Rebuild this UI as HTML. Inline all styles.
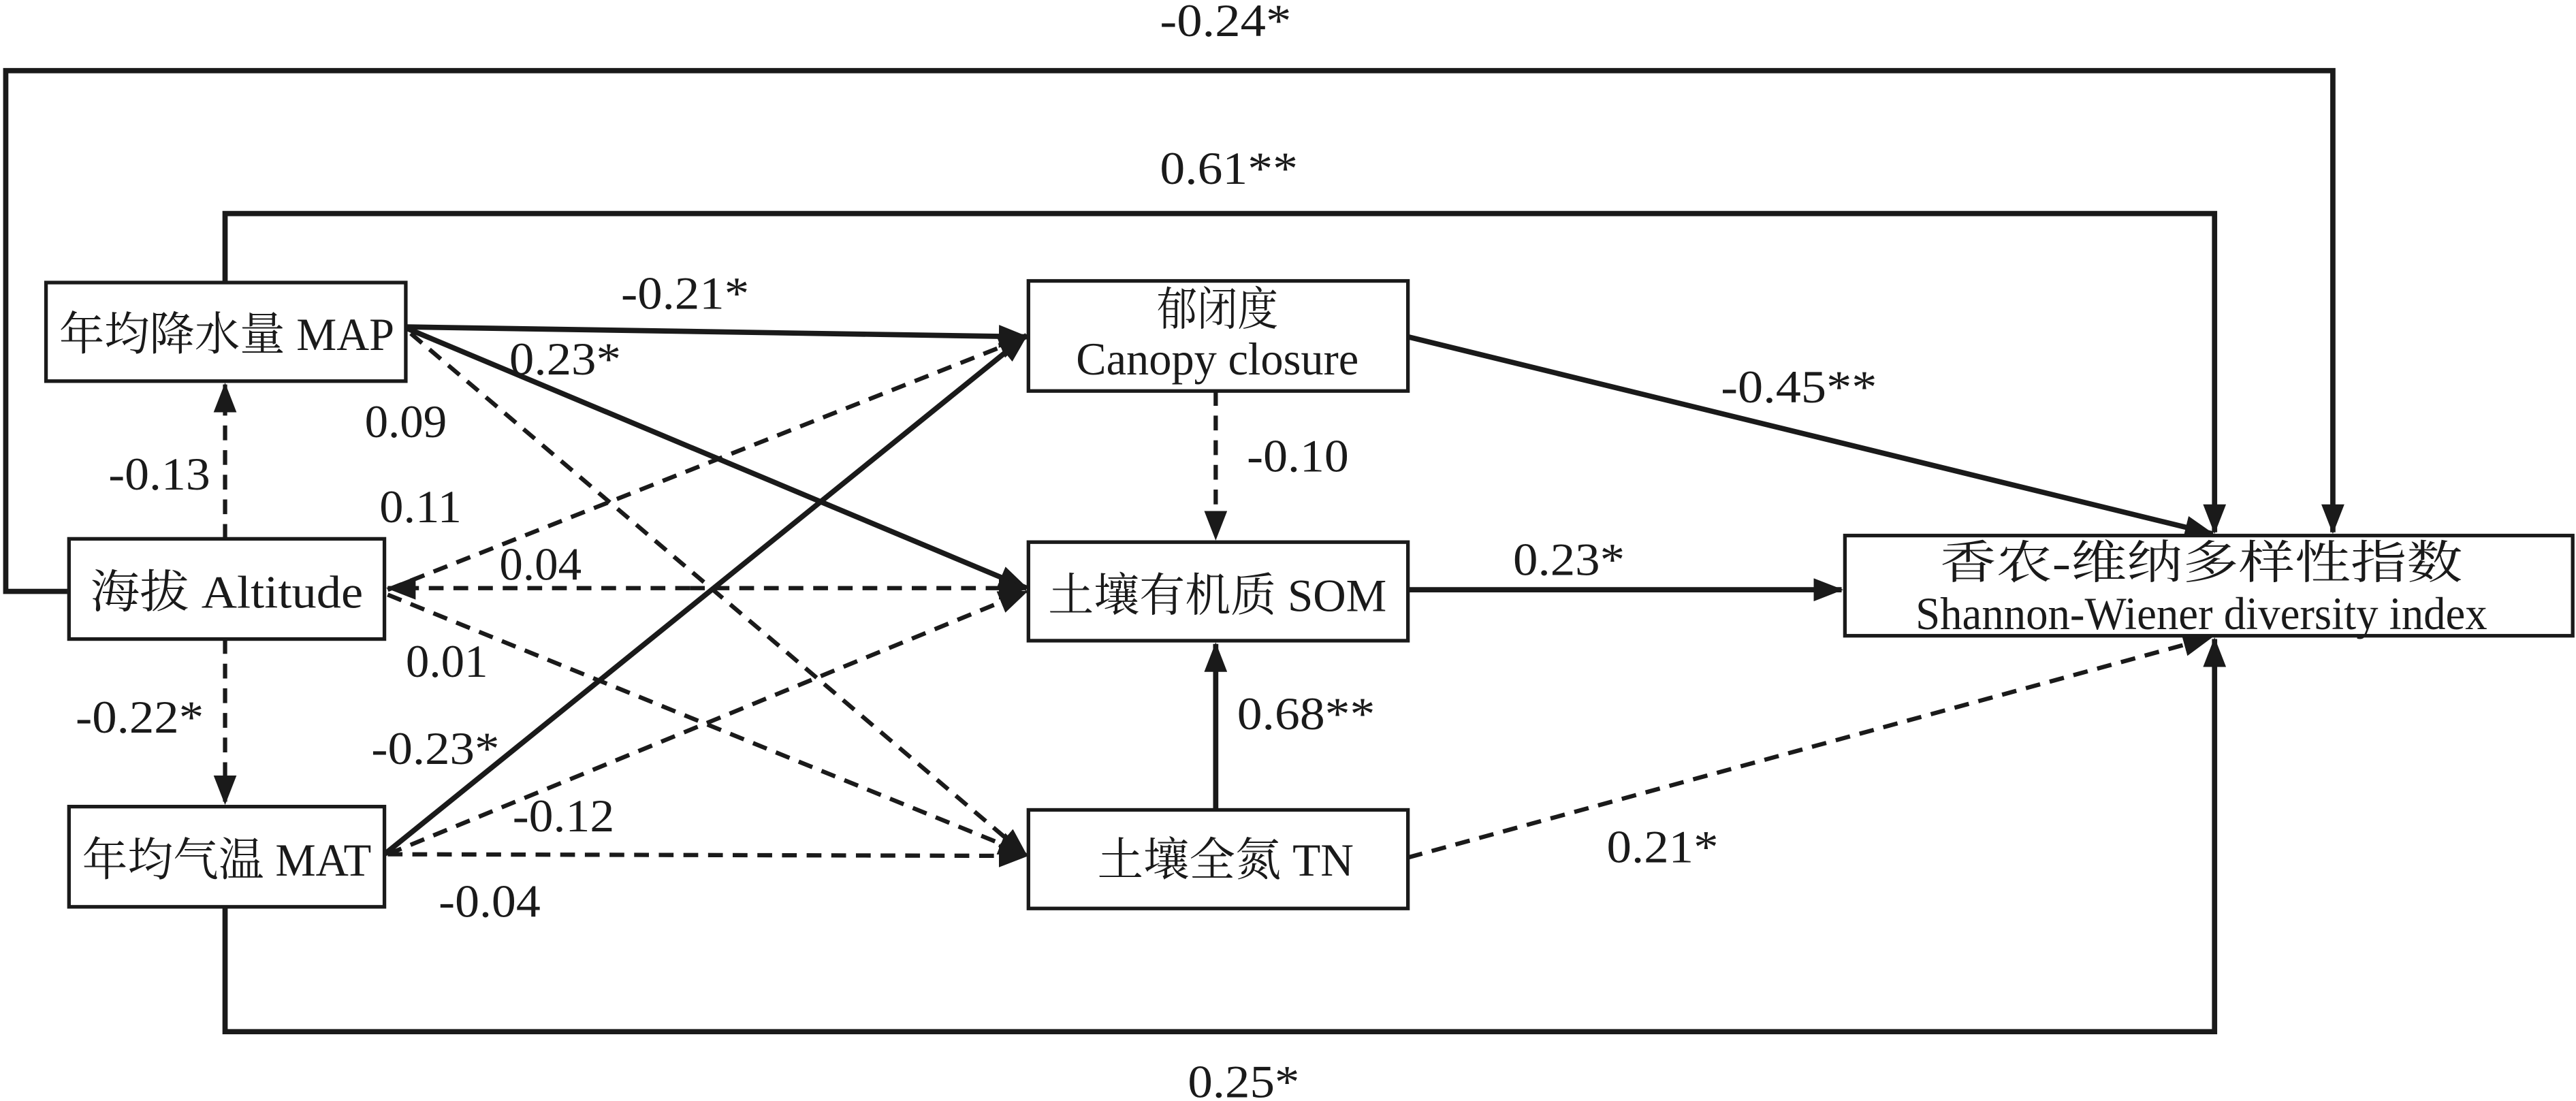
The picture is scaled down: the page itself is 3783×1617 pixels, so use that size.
<!DOCTYPE html>
<html><head><meta charset="utf-8"><style>
html,body{margin:0;padding:0;background:#fff;}
svg{display:block;}
</style></head><body>
<svg width="3783" height="1617" viewBox="0 0 1568 670.2" preserveAspectRatio="none" xmlns="http://www.w3.org/2000/svg">
<defs>
<marker id="a" markerUnits="userSpaceOnUse" markerWidth="18" markerHeight="14" refX="17" refY="7" orient="auto">
<path d="M0,0 L18,7 L0,14 Z" fill="#1a1a1a"/></marker>
</defs>
<g fill="none" stroke="#1a1a1a" stroke-width="3.2">
<polyline points="41,360 3.5,360 3.5,43 1420,43 1420,324" marker-end="url(#a)"/>
<polyline points="137,172 137,130 1348,130 1348,324" marker-end="url(#a)"/>
<polyline points="137,552 137,628 1348,628 1348,389" marker-end="url(#a)"/>
<line x1="248" y1="199" x2="625" y2="205" marker-end="url(#a)"/>
<line x1="248" y1="200" x2="625" y2="358" marker-end="url(#a)"/>
<line x1="234" y1="520" x2="625" y2="204" marker-end="url(#a)"/>
<line x1="857" y1="359" x2="1121" y2="359" marker-end="url(#a)"/>
<line x1="857" y1="205" x2="1347" y2="325" marker-end="url(#a)"/>
<line x1="740" y1="493" x2="740" y2="392" marker-end="url(#a)"/>
</g>
<g fill="none" stroke="#1a1a1a" stroke-width="2.6" stroke-dasharray="9,6">
<line x1="250" y1="203" x2="625" y2="521" marker-end="url(#a)"/>
<line x1="137" y1="328" x2="137" y2="234" marker-end="url(#a)"/>
<line x1="137" y1="389" x2="137" y2="489" marker-end="url(#a)"/>
<line x1="236" y1="359" x2="625" y2="205" marker-end="url(#a)"/>
<line x1="420" y1="358" x2="236" y2="358" marker-end="url(#a)"/>
<line x1="420" y1="358" x2="625" y2="358" marker-end="url(#a)"/>
<line x1="236" y1="362" x2="625" y2="520" marker-end="url(#a)"/>
<line x1="236" y1="520" x2="625" y2="360" marker-end="url(#a)"/>
<line x1="236" y1="520" x2="625" y2="521" marker-end="url(#a)"/>
<line x1="740" y1="238" x2="740" y2="328" marker-end="url(#a)"/>
<line x1="857" y1="522" x2="1346" y2="388" marker-end="url(#a)"/>
</g>
<g fill="#fff" stroke="#1a1a1a" stroke-width="2.2">
<rect x="28" y="172" width="219" height="60"/>
<rect x="42" y="328" width="192" height="61"/>
<rect x="42" y="491" width="192" height="61"/>
<rect x="626" y="171" width="231" height="67"/>
<rect x="626" y="330" width="231" height="60"/>
<rect x="626" y="493" width="231" height="60"/>
<rect x="1123" y="326" width="443" height="61"/>
</g>
<g font-size="28" text-anchor="middle" fill="#1a1a1a" font-family="'Liberation Serif','Noto Serif CJK SC',serif">
<text x="138" y="213" textLength="204" lengthAdjust="spacingAndGlyphs">年均降水量 MAP</text>
<text x="138" y="370" textLength="166" lengthAdjust="spacingAndGlyphs">海拔 Altitude</text>
<text x="138" y="533" textLength="176" lengthAdjust="spacingAndGlyphs">年均气温 MAT</text>
<text x="741" y="198" textLength="74" lengthAdjust="spacingAndGlyphs">郁闭度</text>
<text x="741" y="228" textLength="172" lengthAdjust="spacingAndGlyphs">Canopy closure</text>
<text x="741" y="372" textLength="206" lengthAdjust="spacingAndGlyphs">土壤有机质 SOM</text>
<text x="746" y="533" textLength="156" lengthAdjust="spacingAndGlyphs">土壤全氮 TN</text>
<text x="1340" y="352" textLength="318" lengthAdjust="spacingAndGlyphs">香农-维纳多样性指数</text>
<text x="1340" y="383" textLength="348" lengthAdjust="spacingAndGlyphs">Shannon-Wiener diversity index</text>
</g>
<g font-size="28" text-anchor="middle" fill="#1a1a1a" font-family="'Liberation Serif',serif">
<text x="746" y="22" textLength="80" lengthAdjust="spacingAndGlyphs">-0.24*</text>
<text x="748" y="112" textLength="84" lengthAdjust="spacingAndGlyphs">0.61**</text>
<text x="757" y="668" textLength="68" lengthAdjust="spacingAndGlyphs">0.25*</text>
<text x="417" y="188" textLength="78" lengthAdjust="spacingAndGlyphs">-0.21*</text>
<text x="344" y="228" textLength="68" lengthAdjust="spacingAndGlyphs">0.23*</text>
<text x="247" y="266" textLength="50" lengthAdjust="spacingAndGlyphs">0.09</text>
<text x="97" y="298" textLength="62" lengthAdjust="spacingAndGlyphs">-0.13</text>
<text x="256" y="318" textLength="50" lengthAdjust="spacingAndGlyphs">0.11</text>
<text x="329" y="353" textLength="50" lengthAdjust="spacingAndGlyphs">0.04</text>
<text x="272" y="412" textLength="50" lengthAdjust="spacingAndGlyphs">0.01</text>
<text x="85" y="446" textLength="78" lengthAdjust="spacingAndGlyphs">-0.22*</text>
<text x="265" y="465" textLength="78" lengthAdjust="spacingAndGlyphs">-0.23*</text>
<text x="343" y="506" textLength="62" lengthAdjust="spacingAndGlyphs">-0.12</text>
<text x="298" y="558" textLength="62" lengthAdjust="spacingAndGlyphs">-0.04</text>
<text x="790" y="287" textLength="62" lengthAdjust="spacingAndGlyphs">-0.10</text>
<text x="795" y="444" textLength="84" lengthAdjust="spacingAndGlyphs">0.68**</text>
<text x="955" y="350" textLength="68" lengthAdjust="spacingAndGlyphs">0.23*</text>
<text x="1095" y="245" textLength="95" lengthAdjust="spacingAndGlyphs">-0.45**</text>
<text x="1012" y="525" textLength="68" lengthAdjust="spacingAndGlyphs">0.21*</text>
</g>
</svg>
</body></html>
